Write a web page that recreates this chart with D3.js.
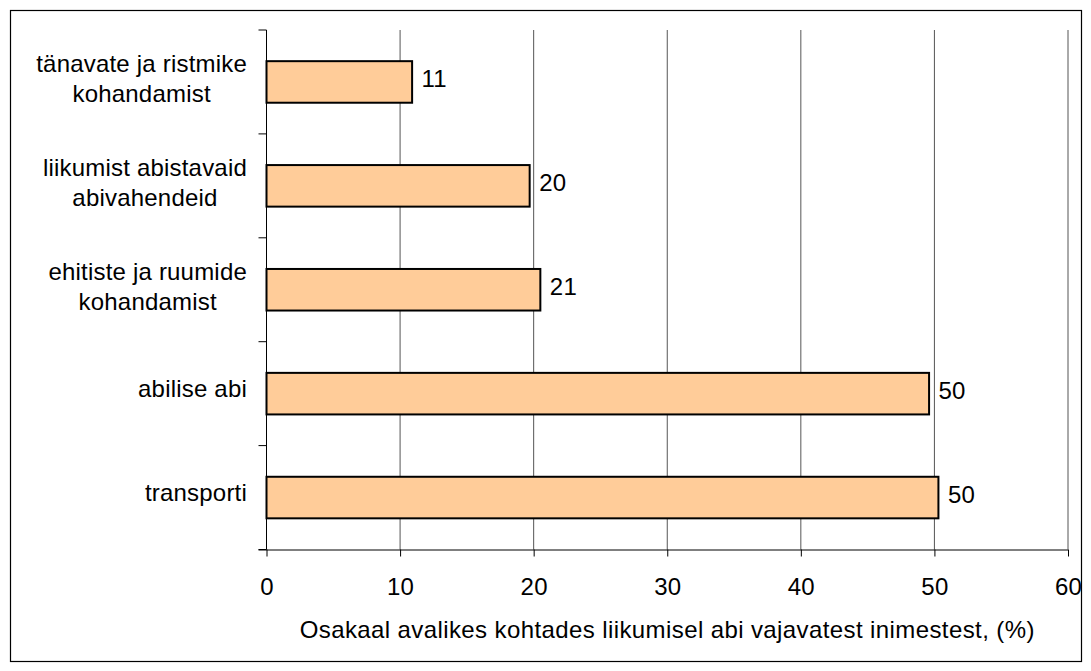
<!DOCTYPE html>
<html><head><meta charset="utf-8">
<script src="https://cdn.jsdelivr.net/npm/d3@7"></script>
<style>
body{margin:0;background:#fff;}
text{font-family:"Liberation Sans",Arial,sans-serif;fill:#000;}
</style></head>
<body><svg id="c" width="1091" height="671"></svg>
<script>
const categories = [
  ["tänavate ja ristmike", "kohandamist"],
  ["liikumist abistavaid", "abivahendeid"],
  ["ehitiste ja ruumide", "kohandamist"],
  ["abilise abi"],
  ["transporti"]
];
const values = [10.9, 19.7, 20.5, 49.6, 50.3];
const xTicks = [0, 10, 20, 30, 40, 50, 60];
const xTitle = "Osakaal avalikes kohtades liikumisel abi vajavatest inimestest, (%)";

const svg = d3.select("#c");
const m = {left: 266.5, right: 1068, top: 30, bottom: 549.5};
const fs = 24;
const ls = 0.2;

svg.append("rect").attr("x", 10.5).attr("y", 10.5).attr("width", 1071).attr("height", 651)
  .attr("fill", "#fff").attr("stroke", "#000").attr("stroke-width", 1.2);

const x = d3.scaleLinear().domain([0, 60]).range([m.left, m.right]);
const idx = d3.range(categories.length);
const y = d3.scaleBand().domain(idx).range([m.top, m.bottom]).paddingInner(0.6).paddingOuter(0.3);
const yb = d3.scaleBand().domain(idx).range([m.top, m.bottom]);

// gridlines
svg.append("g").selectAll("line").data(xTicks.slice(1)).join("line")
  .attr("x1", d => x(d)).attr("x2", d => x(d))
  .attr("y1", m.top).attr("y2", m.bottom)
  .attr("stroke", "#555").attr("stroke-width", 1);

// bars
svg.append("g").selectAll("rect").data(values).join("rect")
  .attr("x", x(0)).attr("y", (d, i) => y(i))
  .attr("width", d => x(d) - x(0)).attr("height", y.bandwidth())
  .attr("fill", "#FFCC99").attr("stroke", "#000").attr("stroke-width", 2);

// value labels
svg.append("g").selectAll("text").data(values).join("text")
  .attr("x", d => x(d) + 9.5).attr("y", (d, i) => y(i) + y.bandwidth() / 2 + 5)
  .attr("font-size", fs).attr("letter-spacing", ls)
  .text(d => d3.format(".0f")(d));

// x axis
const xa = svg.append("g").attr("transform", `translate(0,${m.bottom})`)
  .call(d3.axisBottom(x).tickValues(xTicks).tickSize(7).tickPadding(21));
xa.select(".domain").attr("stroke", "#000").attr("d", `M${m.left - 8},0.5H${m.right}`);
xa.selectAll(".tick line").attr("stroke", "#000");
xa.selectAll(".tick text").attr("font-size", fs).attr("letter-spacing", ls)
  .attr("font-family", "Liberation Sans, Arial, sans-serif").attr("fill", "#000");

// y axis
const ya = svg.append("g").attr("transform", `translate(${m.left},0)`);
ya.append("line").attr("x1", 0).attr("x2", 0).attr("y1", m.top).attr("y2", m.bottom).attr("stroke", "#000");
ya.selectAll("line.t").data(d3.range(categories.length + 1)).join("line").attr("class", "t")
  .attr("x1", -8).attr("x2", 0)
  .attr("y1", d => d < categories.length ? yb(d) : m.bottom)
  .attr("y2", d => d < categories.length ? yb(d) : m.bottom)
  .attr("stroke", "#000");

// category labels
const lh = 29.5;
const labG = svg.append("g");
categories.forEach((lines, i) => {
  const cy = y(i) + y.bandwidth() / 2;
  const off = lines.length > 1 ? 5 : 3;
  const t = labG.append("text").attr("font-size", fs).attr("letter-spacing", ls).attr("text-anchor", "middle");
  const spans = lines.map((ln, j) => t.append("tspan")
    .attr("y", cy + off + (j - (lines.length - 1) / 2) * lh).text(ln));
  const w = d3.max(spans, s => s.node().getComputedTextLength());
  spans.forEach(s => s.attr("x", 247 - w / 2));
});

// x title
svg.append("text").attr("x", (m.left + m.right) / 2).attr("y", 638)
  .attr("text-anchor", "middle").attr("font-size", fs).attr("letter-spacing", 0.4).text(xTitle);
</script></body></html>
